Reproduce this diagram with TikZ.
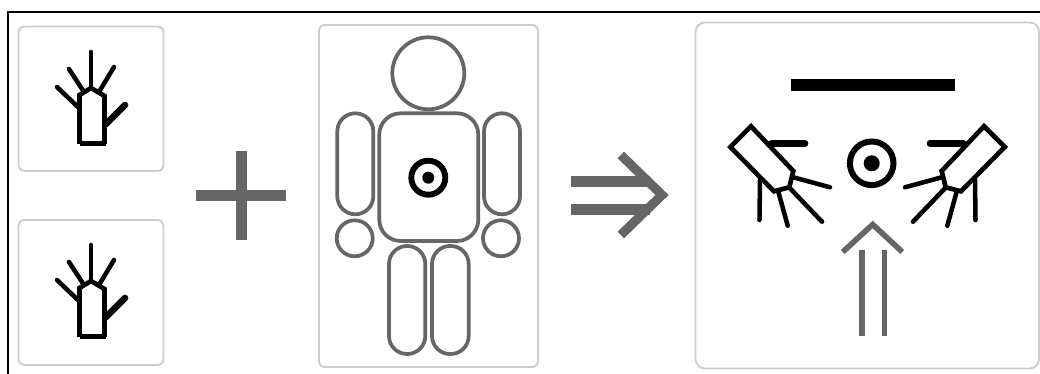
\documentclass[tikz,border=0pt]{standalone}
\definecolor{cardgrey}{HTML}{CCCCCC}
\definecolor{figgrey}{HTML}{666666}
\tikzset{
  card/.style={draw=cardgrey,line width=1.4pt,fill=white,rounded corners=4.5pt},
  limb/.style={draw=figgrey,line width=2.8pt},
  fingerline/.style={draw=black,line width=3.4pt,line cap=round},
  thumbline/.style={draw=black,line width=5pt,line cap=round},
  palmline/.style={draw=black,line width=3.5pt,line join=miter},
  greybar/.style={fill=figgrey,draw=none},
  greyline/.style={draw=figgrey,line width=4.2pt},
}
\newcommand{\handicon}{%
  \draw[fingerline] (91,52)--(91,88);
  \draw[fingerline] (69,69)--(84,92);
  \draw[fingerline] (114,67)--(99,92);
  \draw[fingerline] (57,87)--(79,108);
  \draw[thumbline] (125,105)--(106,124);
  \draw[palmline] (79.5,144)--(79.5,95)--(91,88)--(104.5,96)--(104.5,144);
  \draw[draw=black,line width=4pt] (80,143.8)--(106,143.8);
}
\newcommand{\lampicon}{%
  \draw[thumbline] (771.7,143.3)--(805,143.3);
  \draw[fingerline] (760,180)--(759.5,220);
  \draw[fingerline] (778.3,191.7)--(787.7,225.7);
  \draw[fingerline] (790,188.3)--(822,221.7);
  \draw[fingerline] (793.3,177.3)--(830,187.3);
  \draw[palmline,fill=white] (751,126.3)--(730.3,147)--(774,191.3)--(789.3,187.3)--(793.3,171)--cycle;
}
\begin{document}
\begin{tikzpicture}[x=0.75pt,y=-0.75pt]
\useasboundingbox (0,0) rectangle (1040,374);
\fill[white] (0,0) rectangle (1040,374);
% frame
\draw[black,line width=2pt] (8,374)--(8,12)--(1040,12);
% cards
\draw[card] (18.5,26.5) rectangle (163.5,171);
\draw[card] (18.5,220) rectangle (163.5,365);
\draw[card] (319,25) rectangle (538,367);
\draw[card,rounded corners=7pt] (695.5,22.5) rectangle (1039,368.5);
% hands
\handicon
\begin{scope}[yshift=-193*0.75pt]\handicon\end{scope}
% plus
\fill[greybar] (196,190) rectangle (285.5,201);
\fill[greybar] (235.5,151) rectangle (246.5,240);
% figure
\draw[limb] (428.3,73.3) circle[radius=36];
\draw[limb,rounded corners=16pt] (379.3,113.3) rectangle (478.3,241);
\draw[limb,rounded corners=13.5pt] (337.3,113.3) rectangle (373.3,214.3);
\draw[limb,rounded corners=13.5pt] (484,113.3) rectangle (520,214.3);
\draw[limb] (354.7,238.3) circle[radius=18];
\draw[limb] (501,238.3) circle[radius=18];
\draw[limb,rounded corners=13.5pt] (389,246) rectangle (425.3,354);
\draw[limb,rounded corners=13.5pt] (432,246) rectangle (468.7,354);
\draw[black,line width=4.4pt] (428.3,177.7) circle[radius=17];
\fill[black] (428.3,177.7) circle[radius=6];
% double arrow
\fill[greybar] (570.7,175.7) rectangle (650,186.7);
\fill[greybar] (570.7,204) rectangle (650,215);
\draw[draw=figgrey,line width=6.9pt,line join=miter] (620.8,155)--(662,195)--(620.8,235);
% right card
\fill[black] (791.3,79) rectangle (955,90.7);
\draw[black,line width=4.5pt] (871.7,163.3) circle[radius=21.8];
\fill[black] (871.7,163.3) circle[radius=8];
\lampicon
\begin{scope}[xscale=-1,xshift=-1735*0.75pt]\lampicon\end{scope}
% up arrow
\draw[greyline,line join=miter] (842.7,252)--(872.7,224.5)--(902.3,252);
\draw[greyline] (862,250)--(862,336);
\draw[greyline] (884.3,250)--(884.3,336);
\end{tikzpicture}
\end{document}
